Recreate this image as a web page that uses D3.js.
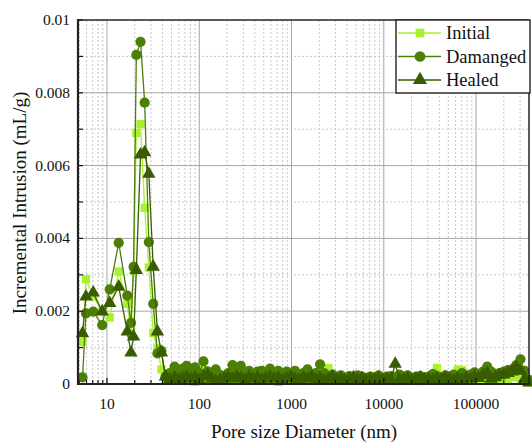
<!DOCTYPE html>
<html>
<head>
<meta charset="utf-8">
<script src="https://cdn.jsdelivr.net/npm/d3@7/dist/d3.min.js"></script>
<style>
  html, body { margin: 0; padding: 0; background: #fff; }
  svg { display: block; font-family: "Liberation Serif", "Times New Roman", serif; }
</style>
</head>
<body>
<svg id="chart" width="532" height="443"></svg>
<script>
// Pore diameters (nm) shared by all three intrusion curves
const diameters = [
  5.43, 5.92, 7.09, 8.87, 10.7, 13.4, 16.6, 18.2, 19.4, 20.8, 23.1, 25.6, 28.4, 31.7, 35.2, 38.9,
  43, 48, 54, 60, 66, 73, 81, 90, 100, 111, 123, 136, 151, 168, 186, 206, 229, 254, 282, 313,
  347, 385, 427, 474, 526, 584, 648, 719, 798, 886, 983, 1090, 1210, 1345, 1490, 1655, 1835,
  2040, 2260, 2510, 2790, 3090, 3430, 3810, 4230, 4690, 5210, 5780, 6410, 7120, 7900, 8770,
  9730, 10800, 12000, 13300, 14800, 16400, 18200, 20200, 22400, 24900, 27600, 30600, 34000,
  37700, 41900, 46500, 51600, 57200, 63500, 70500, 78200, 86800, 96400, 107000, 119000,
  132000, 146000, 162000, 180000, 200000, 222000, 246000, 273000, 303000, 336000, 373000
];

// Incremental intrusion (mL/g)
const initialValues = [
  0.00115, 0.00288, 0.0024, 0.0020, 0.00183, 0.00309, 0.0022, 0.0014, 0.0031, 0.0069, 0.00714, 0.00484, 0.0032, 0.0014, 0.00098, 0.0004,
  0.00012, 0.0001, 0.00014, 0.0001, 0.00012, 0.00008, 0.00012, 0.00006, 0.0001, 0.00038, 0.0001, 0.00012, 0.00008, 0.0001,
  0.00012, 0.0001, 0.00014, 0.00026, 0.0001, 0.00012, 0.00008, 0.0001, 0.00012, 0.0001, 0.00008, 0.00012, 0.0001, 0.00006,
  0.0001, 0.00012, 0.0001, 0.00008, 0.00012, 0.0001, 0.00012, 0.00008, 0.0001, 0.00012, 0.0001, 0.00044, 0.0001, 0.00012,
  0.0001, 0.00008, 0.00012, 0.0001, 0.00012, 0.0001, 0.00008, 0.00012, 0.0001, 0.00012, 0.0001, 0.00012, 0.0001, 0.00008,
  0.0001, 0.00012, 0.0001, 0.00012, 0.0001, 0.00008, 0.0001, 0.00012, 0.00016, 0.00044, 0.00012, 0.0001, 0.00012, 0.00018,
  0.0004, 0.00038, 0.00012, 0.0001, 0.00012, 0.0001, 0.00014, 0.00012, 0.0001, 0.00014, 0.00012, 0.00016, 0.00014, 0.00018,
  0.0002, 0.00016, 0.0001, 0.00004
];
const damagedValues = [
  0.00018, 0.00194, 0.00199, 0.00162, 0.0026, 0.00388, 0.00243, 0.00168, 0.00322, 0.00904, 0.0094, 0.00773, 0.0039, 0.0022, 0.00084, 0.00091,
  0.0002, 0.0003, 0.00048, 0.0003, 0.00042, 0.0005, 0.00032, 0.00046, 0.0003, 0.00062, 0.00035, 0.0002, 0.0004, 0.00025,
  0.0002, 0.0003, 0.00052, 0.0003, 0.0005, 0.00028, 0.00036, 0.0002, 0.00034, 0.00036, 0.00024, 0.00042, 0.0003, 0.00036,
  0.00026, 0.00034, 0.0002, 0.00036, 0.00026, 0.0003, 0.0004, 0.00024, 0.0003, 0.00054, 0.0003, 0.00022, 0.00026, 0.0002,
  0.00024, 0.00016, 0.00022, 0.00018, 0.00024, 0.0002, 0.00016, 0.0002, 0.00018, 0.00024, 0.00016, 0.0002, 0.00022, 0.00018,
  0.00026, 0.0002, 0.00024, 0.00016, 0.0002, 0.00022, 0.00018, 0.0002, 0.00028, 0.00022, 0.00018, 0.00024, 0.0002, 0.00026,
  0.00022, 0.0003, 0.0002, 0.00026, 0.00032, 0.00024, 0.00034, 0.00048, 0.00034, 0.00028, 0.0003, 0.00034, 0.00038, 0.0004,
  0.00052, 0.00068, 0.00036, 0.00012
];
const healedValues = [
  0.00139, 0.0024, 0.00251, 0.00199, 0.00222, 0.00267, 0.00144, 0.00086, 0.0013, 0.00313, 0.0063, 0.00636, 0.00577, 0.00322, 0.00144, 0.00086,
  0.0002, 0.00012, 0.00018, 0.00012, 0.00016, 0.0002, 0.00014, 0.00018, 0.00012, 0.0002, 0.00024, 0.00014, 0.00008, 0.0001,
  0.00016, 0.0002, 0.00014, 0.0002, 0.00016, 0.00012, 0.0002, 0.00014, 0.00018, 0.00012, 0.00016, 0.0002, 0.00014, 0.00018,
  0.0001, 0.00016, 0.0002, 0.00014, 0.00012, 0.00018, 0.00014, 0.0002, 0.00012, 0.00016, 0.0001, 0.00014, 0.0002, 0.00012,
  0.00016, 0.0001, 0.00014, 0.00018, 0.00012, 0.00016, 0.0001, 0.00014, 0.00012, 0.00016, 0.0001, 0.00014, 0.00012, 0.00055,
  0.00012, 0.00012, 0.00016, 0.0001, 0.00014, 0.00018, 0.00012, 0.00014, 0.0001, 0.00016, 0.00012, 0.00018, 0.00014, 0.0001,
  0.00016, 0.00012, 0.00018, 0.00014, 0.0002, 0.00016, 0.00024, 0.0003, 0.00014, 0.00018, 0.00024, 0.00026, 0.0003, 0.00034,
  0.00046, 0.00036, 0.00014, 0.00004
];

const seriesNames = ["Initial", "Damanged", "Healed"];
const seriesColors = ["#a8f030", "#4b7f06", "#395c02"];
const seriesShapes = [d3.symbolSquare, d3.symbolCircle, d3.symbolTriangle];
const seriesSizes = [68, 82, 78];

const xTickValues = [10, 100, 1000, 10000, 100000];
const yTickValues = [0, 0.002, 0.004, 0.006, 0.008, 0.01];

const svg = d3.select("#chart");
const plotLeft = 78, plotRight = 529, plotTop = 20, plotBottom = 384;

const x = d3.scaleLog().domain([4.85, 375000]).range([plotLeft, plotRight]);
const y = d3.scaleLinear().domain([0, 0.01]).range([plotBottom, plotTop]);

// Grid: minor (dotted) and major (solid) lines
const logTicks = [];
for (let p = 0; p <= 5; p++) {
  for (let m = 1; m <= 9; m++) {
    const v = m * Math.pow(10, p);
    if (v > x.domain()[0] && v < x.domain()[1]) logTicks.push({ v, major: m === 1 });
  }
}
const gridG = svg.append("g");
gridG.selectAll("line.vx").data(logTicks).join("line")
  .attr("x1", d => x(d.v)).attr("x2", d => x(d.v))
  .attr("y1", plotTop).attr("y2", plotBottom)
  .attr("stroke", d => d.major ? "#a6a6a6" : "#c8c8c8")
  .attr("stroke-width", 1)
  .attr("stroke-dasharray", d => d.major ? null : "2,2");

const yGrid = d3.range(1, 10).map(i => ({ v: i * 0.001, major: i % 2 === 0 }));
gridG.selectAll("line.hy").data(yGrid).join("line")
  .attr("x1", plotLeft).attr("x2", plotRight)
  .attr("y1", d => y(d.v)).attr("y2", d => y(d.v))
  .attr("stroke", d => d.major ? "#a6a6a6" : "#c8c8c8")
  .attr("stroke-width", 1)
  .attr("stroke-dasharray", d => d.major ? null : "2,2");

// Series lines and markers
const allSeries = [initialValues, damagedValues, healedValues];
const plotG = svg.append("g");
allSeries.forEach((vals, si) => {
  const pts = diameters.map((d, i) => [d, vals[i]]).filter(p => p[1] !== undefined);
  const line = d3.line().x(p => x(p[0])).y(p => y(p[1]));
  plotG.append("path").datum(pts)
    .attr("d", line)
    .attr("fill", "none")
    .attr("stroke", seriesColors[si])
    .attr("stroke-width", 1.3);
  const sym = d3.symbol().type(seriesShapes[si]).size(seriesSizes[si]);
  plotG.append("g").selectAll("path").data(pts).join("path")
    .attr("d", sym)
    .attr("transform", p => `translate(${x(p[0])},${y(p[1])})`)
    .attr("fill", seriesColors[si]);
});

// Axes with inward ticks
const xAxisG = svg.append("g").attr("transform", `translate(0,${plotBottom})`);
xAxisG.selectAll("line.tk").data(logTicks).join("line")
  .attr("x1", d => x(d.v)).attr("x2", d => x(d.v))
  .attr("y1", 0).attr("y2", d => d.major ? -6 : -4)
  .attr("stroke", "#111").attr("stroke-width", 1.2);
xAxisG.selectAll("text").data(xTickValues).join("text")
  .attr("x", d => x(d)).attr("y", 25)
  .attr("text-anchor", "middle")
  .attr("font-size", 15.5)
  .attr("fill", "#111")
  .text(d => d3.format("d")(d));

const yAxisG = svg.append("g").attr("transform", `translate(${plotLeft},0)`);
yAxisG.selectAll("line.tk").data(d3.range(0, 11).map(i => i * 0.001)).join("line")
  .attr("x1", 0).attr("x2", 5)
  .attr("y1", d => y(d)).attr("y2", d => y(d))
  .attr("stroke", "#111").attr("stroke-width", 1.2);
yAxisG.selectAll("text").data(yTickValues).join("text")
  .attr("x", -8).attr("y", d => y(d) + 5)
  .attr("text-anchor", "end")
  .attr("font-size", 15.5)
  .attr("fill", "#111")
  .text(d => d === 0 ? "0" : d3.format(".3~f")(d));

// Frame
svg.append("line").attr("x1", plotLeft).attr("x2", plotRight).attr("y1", plotTop).attr("y2", plotTop)
  .attr("stroke", "#222").attr("stroke-width", 1.5);
svg.append("line").attr("x1", plotRight).attr("x2", plotRight).attr("y1", plotTop).attr("y2", plotBottom)
  .attr("stroke", "#222").attr("stroke-width", 1.5);
svg.append("line").attr("x1", plotLeft).attr("x2", plotRight + 1).attr("y1", plotBottom).attr("y2", plotBottom)
  .attr("stroke", "#222").attr("stroke-width", 2.2);
svg.append("line").attr("x1", plotLeft).attr("x2", plotLeft).attr("y1", plotTop - 1).attr("y2", plotBottom + 1)
  .attr("stroke", "#222").attr("stroke-width", 2.2);

// Axis titles
svg.append("text")
  .attr("x", 304).attr("y", 438)
  .attr("text-anchor", "middle")
  .attr("font-size", 19)
  .attr("fill", "#111")
  .text("Pore size Diameter (nm)");
svg.append("text")
  .attr("transform", "translate(26,203) rotate(-90)")
  .attr("text-anchor", "middle")
  .attr("font-size", 19)
  .attr("fill", "#111")
  .text("Incremental Intrusion (mL/g)");

// Legend
const legend = svg.append("g");
legend.append("rect")
  .attr("x", 396).attr("y", 20).attr("width", 134).attr("height", 73)
  .attr("fill", "#fff").attr("stroke", "#222").attr("stroke-width", 1.4);
seriesNames.forEach((name, i) => {
  const ly = 33 + i * 23.5;
  legend.append("line")
    .attr("x1", 398).attr("x2", 441).attr("y1", ly).attr("y2", ly)
    .attr("stroke", seriesColors[i]).attr("stroke-width", 1.3);
  legend.append("path")
    .attr("d", d3.symbol().type(seriesShapes[i]).size(seriesSizes[i] * 1.1)())
    .attr("transform", `translate(420,${ly})`)
    .attr("fill", seriesColors[i]);
  legend.append("text")
    .attr("x", 446).attr("y", ly + 6)
    .attr("font-size", 18.5)
    .attr("fill", "#111")
    .text(name);
});
</script>
</body>
</html>
